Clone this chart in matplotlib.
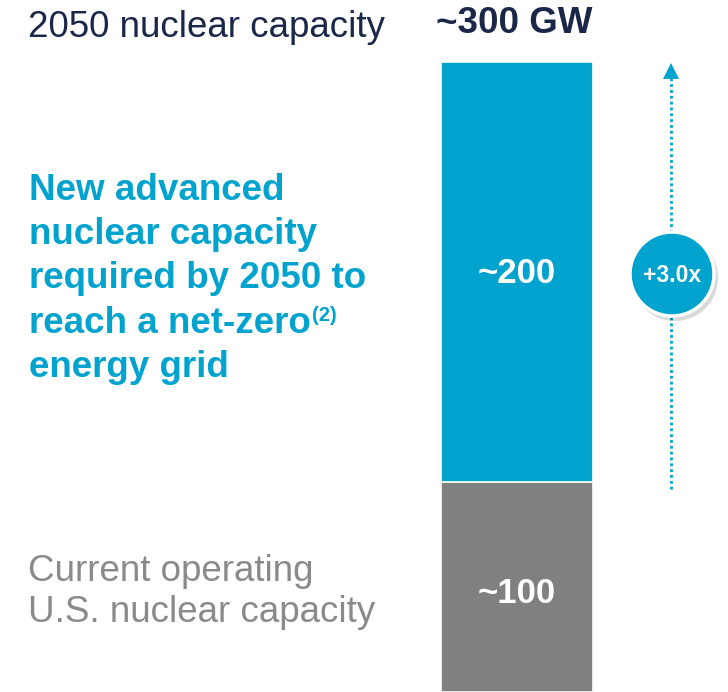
import matplotlib
matplotlib.use("Agg")
import matplotlib.pyplot as plt
from matplotlib.patches import Circle, Polygon

# data
segments = ["Current operating U.S. nuclear capacity", "New advanced nuclear capacity"]
values = [100, 200]
value_labels = ["~100", "~200"]
total_label = "~300 GW"
growth_label = "+3.0x"
title_text = "2050 nuclear capacity"
blue_lines = ["New advanced", "nuclear capacity", "required by 2050 to",
              "reach a net-zero", "energy grid"]
gray_lines = ["Current operating", "U.S. nuclear capacity"]

BLUE = "#00A3CE"
NAVY = "#1B2748"
GRAY_BAR = "#808080"
GRAY_TXT = "#8A8A8A"
SANS = ["Liberation Sans", "DejaVu Sans"]

W, H = 728, 692
fig = plt.figure(figsize=(W / 100, H / 100), dpi=100)
fig.patch.set_facecolor("white")

# pixel-space canvas for labels and the arrow
ax = fig.add_axes([0, 0, 1, 1])
ax.set_xlim(0, W)
ax.set_ylim(H, 0)
ax.axis("off")

ax.text(28, 37, title_text, fontsize=26.5, color=NAVY, va="baseline", ha="left", family=SANS)
ax.text(514, 33, total_label, fontsize=26.5, color=NAVY, va="baseline", ha="center",
        fontweight="bold", family=SANS)

blue_base = [200, 244, 288, 333, 377]
for y, line in zip(blue_base, blue_lines):
    t = ax.text(29, y, line, fontsize=26.5, color=BLUE, fontweight="bold",
                va="baseline", ha="left", family=SANS)
    if line.endswith("net-zero"):
        ax.annotate("(2)", xy=(1, 1), xycoords=t, xytext=(1, 0), textcoords="offset points",
                    fontsize=14.5, color=BLUE, fontweight="bold", va="top", ha="left",
                    family=SANS)

gray_base = [581, 622]
for y, line in zip(gray_base, gray_lines):
    ax.text(28, y, line, fontsize=26.5, color=GRAY_TXT, va="baseline", ha="left", family=SANS)

# dotted growth arrow
ax.plot([671, 671], [489, 78], color=BLUE, lw=2.0, linestyle=(0, (1, 1.1)),
        solid_capstyle="butt", dash_capstyle="butt")
ax.add_patch(Polygon([[663, 79], [679, 79], [671, 63]], closed=True, color=BLUE, lw=0))

# badge with shadow
ax.add_patch(Circle((675, 278), 43, color="#000000", alpha=0.15, lw=0, zorder=3))
ax.add_patch(Circle((672, 274), 42, facecolor=BLUE, edgecolor="white", lw=2.5, zorder=4))
ax.text(672, 275, growth_label, fontsize=16.5, color="white", fontweight="bold",
        ha="center", va="center", zorder=5, family=SANS)

# stacked bar
bx = fig.add_axes([441 / W, 0, 152 / W, (H - 62) / H])
bx.set_xlim(0, 1)
bx.set_ylim(0, sum(values))
bx.axis("off")
colors = [GRAY_BAR, BLUE]
label_dy = [-5, -1]  # nudge in points
bottom = 0
for v, lab, c, dy in zip(values, value_labels, colors, label_dy):
    bx.bar(0.5, v, width=1.0, bottom=bottom, color=c, edgecolor="white", linewidth=1.2)
    bx.annotate(lab, xy=(0.5, bottom + v / 2), xytext=(0, dy), textcoords="offset points",
                ha="center", va="center", color="white",
                fontsize=25, fontweight="bold", family=SANS)
    bottom += v

fig.savefig("out.png", dpi=100)
